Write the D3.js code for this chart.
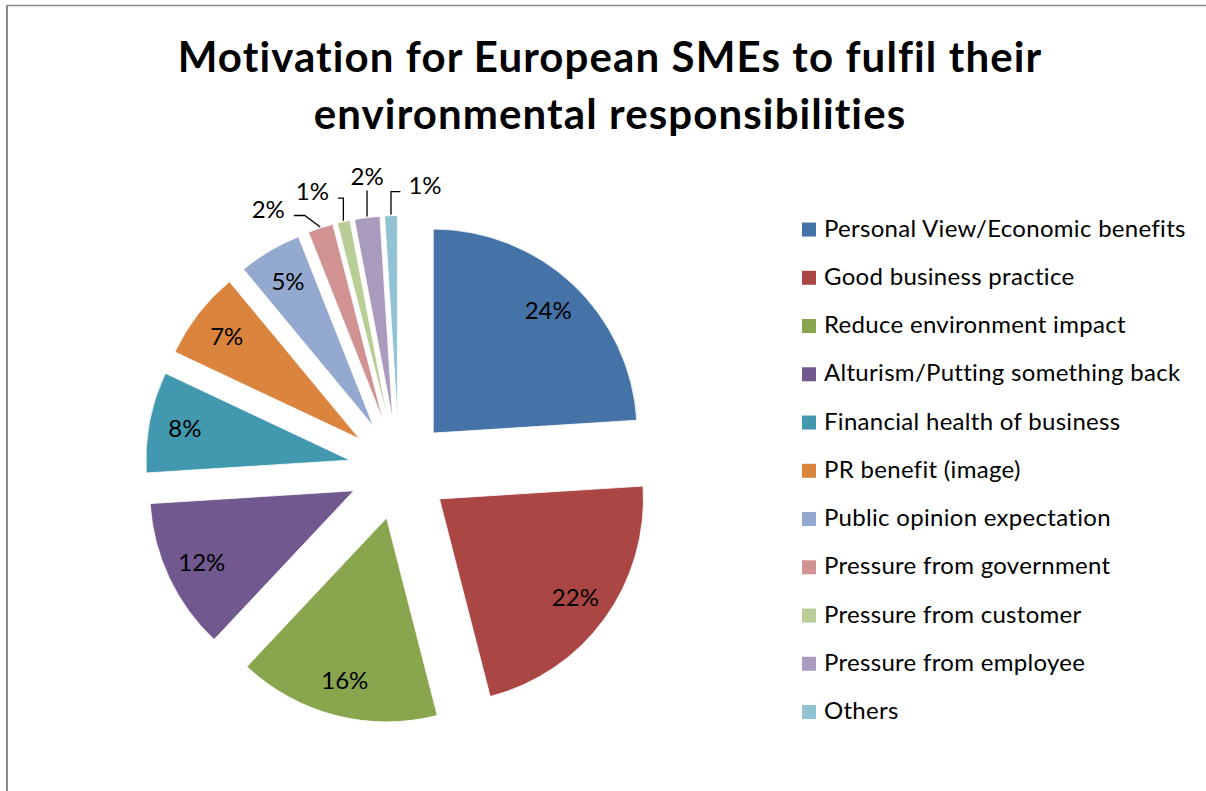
<!DOCTYPE html>
<html>
<head>
<meta charset="utf-8">
<script src="https://cdn.jsdelivr.net/npm/d3@7"></script>
<style>
  html, body { margin: 0; padding: 0; background: #fff; }
  svg { display: block; font-family: Lato, "Open Sans", sans-serif; }
</style>
</head>
<body>
<svg id="chart" width="1206" height="791"></svg>
<script>
// Survey shares (percent) for each motivation, in pie order
const categories = [
  "Personal View/Economic benefits",
  "Good business practice",
  "Reduce environment impact",
  "Alturism/Putting something back",
  "Financial health of business",
  "PR benefit (image)",
  "Public opinion expectation",
  "Pressure from government",
  "Pressure from customer",
  "Pressure from employee",
  "Others"
];
const values = [24, 22, 16, 12, 8, 7, 5, 2, 1, 2, 1];
const colors = [
  "#4572A7", "#AA4643", "#89A54E", "#71588F", "#4198AF", "#DB843D",
  "#93A9CF", "#D19392", "#B9CD96", "#A99BBD", "#91C3D5"
];
const titleLines = [
  "Motivation for European SMEs to fulfil their",
  "environmental responsibilities"
];

// Layout
const W = 1206, H = 791;
const cx = 399, cy = 469.5;      // pie centre before exploding
const R = 204;                   // slice radius
const explode = 50;              // distance each slice is pulled out
const labelR = 168;              // inside label distance from slice apex
const insideMin = 5;             // smaller slices get callout labels
// callout label offsets from the slice's outer edge point
const calloutOffsets = {
  "Pressure from government": [-52, -18],
  "Pressure from customer": [-31, -29],
  "Pressure from employee": [0, -40],
  "Others": [34, -29]
};

const svg = d3.select("#chart");

// frame lines
svg.append("line").attr("x1", 7).attr("x2", W).attr("y1", 5.5).attr("y2", 5.5)
  .attr("stroke", "#8a8a8a").attr("stroke-width", 1.5);
svg.append("line").attr("x1", 7).attr("x2", 7).attr("y1", 5).attr("y2", H)
  .attr("stroke", "#8a8a8a").attr("stroke-width", 2);

// title
const title = svg.append("text")
  .attr("text-anchor", "middle")
  .attr("font-weight", "bold")
  .attr("font-size", 42)
  .attr("letter-spacing", 1.1)
  .attr("fill", "#000");
titleLines.forEach((t, i) => {
  title.append("tspan").attr("x", 610).attr("y", 72 + i * 57).text(t);
});

const color = d3.scaleOrdinal().domain(categories).range(colors);

const pie = d3.pie().sort(null).value(d => d.value)
  .startAngle(0).endAngle(2 * Math.PI);
const arcs = pie(categories.map((c, i) => ({ category: c, value: values[i] })));
const arcGen = d3.arc().innerRadius(0).outerRadius(R);

const polar = (a, r) => [Math.sin(a) * r, -Math.cos(a) * r];

const g = svg.append("g").attr("transform", `translate(${cx},${cy})`);

const slices = g.selectAll("g.slice").data(arcs).enter().append("g")
  .attr("class", "slice")
  .attr("transform", d => {
    const m = (d.startAngle + d.endAngle) / 2;
    const [dx, dy] = polar(m, explode);
    return `translate(${dx},${dy})`;
  });

slices.append("path")
  .attr("d", arcGen)
  .attr("fill", d => color(d.data.category))
  .attr("stroke", "#fff")
  .attr("stroke-width", 0.8);

// inside labels
slices.filter(d => d.data.value >= insideMin).append("text")
  .attr("transform", d => {
    const m = (d.startAngle + d.endAngle) / 2;
    const [x, y] = polar(m, labelR);
    return `translate(${x},${y})`;
  })
  .attr("text-anchor", "middle")
  .attr("dy", "0.36em")
  .attr("font-size", 24)
  .attr("fill", "#000")
  .text(d => d.data.value + "%");

// callout labels with leader lines
const small = slices.filter(d => d.data.value < insideMin);
small.each(function (d) {
  const sel = d3.select(this);
  const m = (d.startAngle + d.endAngle) / 2;
  const p0 = polar(m, R + 1);
  const off = calloutOffsets[d.data.category] || [0, -40];
  const lx = p0[0] + off[0], ly = p0[1] + off[1];
  const txt = sel.append("text")
    .attr("x", lx).attr("y", ly)
    .attr("text-anchor", "middle")
    .attr("dy", "0.36em")
    .attr("font-size", 24)
    .attr("fill", "#000")
    .text(d.data.value + "%");
  const bw = txt.node().getComputedTextLength();
  let pts;
  if (Math.abs(off[0]) < 5) {
    pts = [p0, [p0[0], ly + 14]];
  } else if (off[0] < 0) {
    const end = [lx + bw / 2 + 9, ly + 6.5];
    const ex = Math.min(end[0] + 11, p0[0]);
    pts = [p0, [ex, end[1]], end];
  } else {
    const end = [lx - bw / 2 - 8, ly + 6];
    const ex = Math.max(end[0] - 11, p0[0]);
    pts = [p0, [ex, end[1]], end];
  }
  sel.insert("path", "text")
    .attr("d", d3.line()(pts))
    .attr("fill", "none")
    .attr("stroke", "#000")
    .attr("stroke-width", 1.3);
});

// legend
const rowY = d3.scaleBand().domain(categories).range([205.4, 205.4 + 48.25 * categories.length]);
const legend = svg.append("g");
const rows = legend.selectAll("g").data(categories).enter().append("g")
  .attr("transform", c => `translate(0,${rowY(c) + rowY.bandwidth() / 2})`);
rows.append("rect")
  .attr("x", 802).attr("y", -7).attr("width", 14).attr("height", 14)
  .attr("fill", c => color(c));
rows.append("text")
  .attr("x", 824).attr("y", 7)
  .attr("font-size", 24)
  .attr("letter-spacing", 0.3)
  .attr("fill", "#000")
  .text(c => c);
</script>
</body>
</html>
